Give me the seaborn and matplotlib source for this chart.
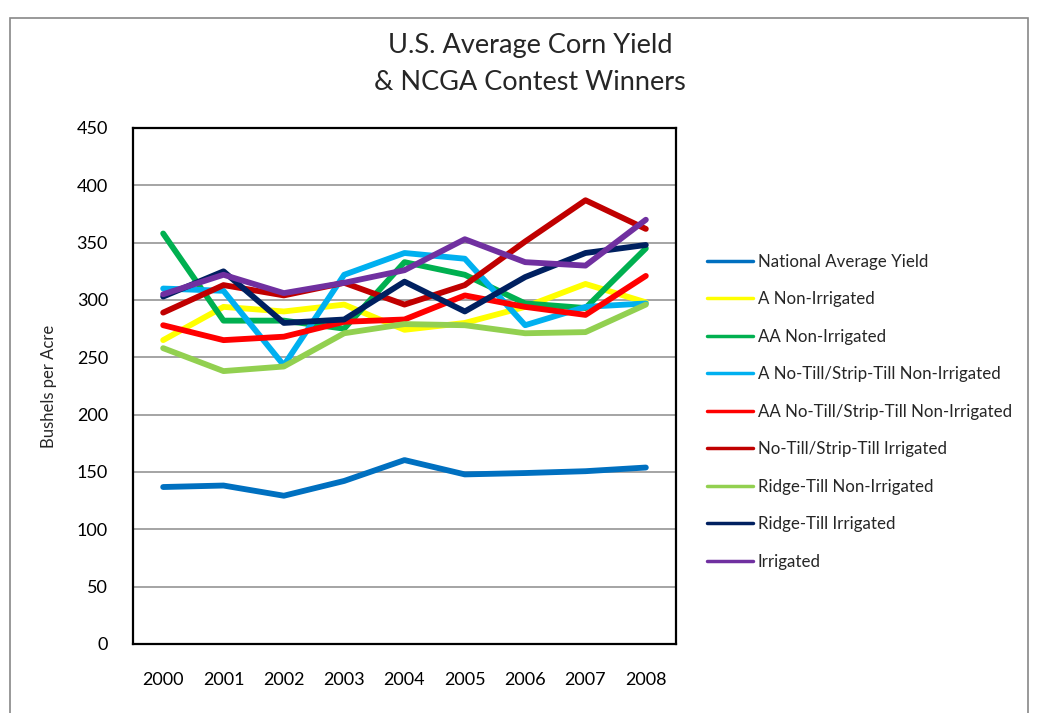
import pandas as pd
import numpy as np
import matplotlib.pyplot as plt
import seaborn as sns
from matplotlib.patches import Rectangle

# chart data
years = ['2000', '2001', '2002', '2003', '2004', '2005', '2006', '2007', '2008']
national_avg = [136.9, 138.2, 129.3, 142.2, 160.4, 147.9, 149.1, 150.7, 153.9]
a_non_irr = [265, 294, 290, 296, 274, 280, 294, 314, 298]
aa_non_irr = [358, 282, 282, 275, 333, 322, 297, 293, 345]
a_notill_non_irr = [310, 308, 243, 322, 341, 336, 278, 294, 297]
aa_notill_non_irr = [278, 265, 268, 281, 283, 304, 294, 287, 321]
notill_irr = [289, 313, 304, 315, 296, 313, 351, 387, 362]
ridge_non_irr = [258, 238, 242, 271, 279, 278, 271, 272, 296]
ridge_irr = [303, 325, 280, 283, 316, 290, 320, 341, 348]
irrigated = [305, 322, 306, 315, 326, 353, 333, 330, 370]

series_names = ['National Average Yield', 'A Non-Irrigated', 'AA Non-Irrigated',
                'A No-Till/Strip-Till Non-Irrigated', 'AA No-Till/Strip-Till Non-Irrigated',
                'No-Till/Strip-Till Irrigated', 'Ridge-Till Non-Irrigated',
                'Ridge-Till Irrigated', 'Irrigated']
series_values = [national_avg, a_non_irr, aa_non_irr, a_notill_non_irr, aa_notill_non_irr,
                 notill_irr, ridge_non_irr, ridge_irr, irrigated]
colors = ['#0070C0', '#FFFF00', '#00B050', '#00B0F0', '#FF0000',
          '#C00000', '#92D050', '#002060', '#7030A0']

rows = []
for name, vals in zip(series_names, series_values):
    for y, v in zip(years, vals):
        rows.append({'year': y, 'value': v, 'series': name})
df = pd.DataFrame(rows)

sns.set_style('white')
plt.rcParams['font.family'] = ['Lato', 'DejaVu Sans']

fig = plt.figure(figsize=(10.39, 7.13), dpi=100)
# outer chart border
fig.patches.append(Rectangle((10 / 1039, -0.01), 1018 / 1039, 1 - 18 / 713 + 0.01,
                             transform=fig.transFigure, fill=False,
                             edgecolor='#888888', linewidth=1.2))
ax = fig.add_axes([133 / 1039, 1 - 644 / 713, 543 / 1039, 516 / 713])

sns.lineplot(data=df, x='year', y='value', hue='series', hue_order=series_names,
             palette=colors, linewidth=4.2, ax=ax, sort=False)

ax.set_xlim(-0.5, len(years) - 0.5)
ax.set_ylim(0, 450)
ax.set_yticks(np.arange(0, 451, 50))
ax.yaxis.grid(True, color='#8c8c8c', linewidth=1.1)
ax.set_axisbelow(True)
for s in ax.spines.values():
    s.set_color('black')
    s.set_linewidth(1.6)
ax.tick_params(axis='both', length=0, labelsize=13, colors='black')
ax.tick_params(axis='y', pad=18)
ax.tick_params(axis='x', pad=20)
ax.set_xlabel('')
ax.set_ylabel('Bushels per Acre', fontsize=12, labelpad=14)

fig.text(0.51, 1 - 45 / 713, 'U.S. Average Corn Yield', ha='center', va='center', fontsize=19.5)
fig.text(0.51, 1 - 82 / 713, '& NCGA Contest Winners', ha='center', va='center', fontsize=19.5)

handles, labels = ax.get_legend_handles_labels()
ax.get_legend().remove()
leg = fig.legend(handles, labels, loc='upper left', bbox_to_anchor=(700 / 1039, 1 - 247 / 713),
                 frameon=False, fontsize=12.2, labelspacing=1.27, handlelength=2.75,
                 handletextpad=0.25, borderaxespad=0)
for h in leg.get_lines():
    h.set_linewidth(2.5)

fig.savefig('out.png', dpi=100)
